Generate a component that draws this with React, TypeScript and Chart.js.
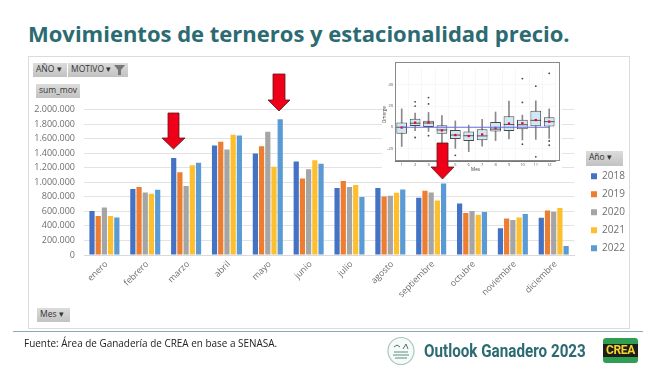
import React, { useEffect, useRef } from "react";
import { Chart, registerables } from "chart.js";

Chart.register(...registerables);

const months = ["enero","febrero","marzo","abril","mayo","junio","julio","agosto","septiembre","octubre","noviembre","diciembre"];
const v2018 = [604000,906000,1332000,1505000,1396000,1286000,920000,920000,787000,709000,366000,512000];
const v2019 = [535000,933000,1139000,1556000,1496000,1052000,1016000,805000,883000,577000,503000,613000];
const v2020 = [654000,860000,947000,1450000,1693000,1180000,933000,815000,860000,604000,480000,595000];
const v2021 = [535000,842000,1235000,1652000,1213000,1304000,961000,856000,750000,554000,517000,645000];
const v2022 = [517000,897000,1267000,1643000,1867000,1254000,796000,901000,984000,590000,563000,124000];
const years = ["2018","2019","2020","2021","2022"];
const yearColors = ["#4472c4","#ed7d31","#a5a5a5","#fdbf2d","#5b9bd5"];

const boxMonths = ["1","2","3","4","5","6","7","8","9","10","11","12"];
const q1 = [-6.2,1.2,0.3,-6.2,-11,-13,-12.4,-4,-3.5,-1.8,0.9,0.6];
const q3 = [4.4,8,6.2,2,-2.6,-4,-1.8,5,10.3,7,15.6,9.4];
const medians = [0,3.8,4,-2.6,-7.4,-8,-8.2,-1.8,2.6,2.4,6.5,5.3];
const means = [-0.3,4.4,4.4,-3,-7.4,-8.3,-6.8,-0.6,3.5,3.8,6.8,5.3];
const whiskLow = [-18.2,-3.2,-4,-15,-20,-23,-18,-12.6,-11,-12,-11.5,-10.6];
const whiskHigh = [17.4,13.5,14,11,6,2,7.4,14.4,24.7,11.5,25,17.4];
const outlierMonths = ["2","2","2","3","3","3","5","10","10","10","11","11","12","12","12"];
const outlierValues = [24,20,-9.7,28,22,-8,-26.5,46,23.5,-16,38.8,-28,51,-13,-17];
const boxZero = boxMonths.map(() => 0);

const FONT = "'Open Sans', sans-serif";
const SOFT = "blur(0.35px)";

const legendPlacer = {
  id: "legendPlacer",
  beforeDraw(chart: any) {
    if (chart.legend) {
      chart.legend.left = 583;
      chart.legend.right = 640;
      chart.legend.top = 111;
      chart.legend.bottom = 313.5;
    }
  },
};

function MainChart() {
  const ref = useRef<HTMLCanvasElement>(null);
  useEffect(() => {
    const series = [v2018, v2019, v2020, v2021, v2022];
    const chart = new Chart(ref.current!, {
      type: "bar",
      data: {
        labels: months,
        datasets: series.map((data, i) => ({
          label: years[i],
          data,
          backgroundColor: yearColors[i],
          categoryPercentage: 0.76,
          barPercentage: 0.84,
        })),
      },
      plugins: [legendPlacer],
      options: {
        animation: false,
        responsive: false,
        layout: { padding: { left: 34, right: 32, top: 109.5, bottom: 73.5 } },
        plugins: {
          title: { display: false },
          tooltip: { enabled: false },
          legend: {
            position: "right",
            labels: {
              boxWidth: 6,
              boxHeight: 6,
              padding: 8,
              color: "#6f6f6f",
              font: { family: FONT, size: 10 },
            },
          },
        },
        scales: {
          x: {
            afterFit: (s: any) => { s.height = 56.5; },
            grid: { display: false, drawTicks: false, tickLength: 0 },
            border: { color: "#d9d9d9" },
            ticks: {
              minRotation: 45,
              maxRotation: 45,
              color: "#6f6f6f",
              padding: 4,
              labelOffset: 2,
              autoSkip: false,
              font: { family: FONT, size: 8.8 },
            },
          },
          y: {
            min: 0,
            max: 2000000,
            afterFit: (s: any) => { s.width = 50; },
            grid: { color: "#e2e2e2", drawTicks: false },
            border: { display: false },
            ticks: {
              stepSize: 200000,
              padding: 9,
              color: "#6f6f6f",
              font: { family: FONT, size: 9 },
              callback: (v: any) => String(v).replace(/\B(?=(\d{3})+(?!\d))/g, "."),
            },
          },
        },
      },
    } as any);
    return () => chart.destroy();
  }, []);
  return <canvas ref={ref} width={658} height={385} style={{ position: "absolute", left: 0, top: 0, filter: SOFT }} />;
}

function BoxChart() {
  const ref = useRef<HTMLCanvasElement>(null);
  useEffect(() => {
    const boxes = boxMonths.map((_, i) => [q1[i], q3[i]]);
    const whiskers = boxMonths.map((_, i) => [whiskLow[i], whiskHigh[i]]);
    const chart = new Chart(ref.current!, {
      data: {
        labels: boxMonths,
        datasets: [
          { type: "line", data: boxZero, borderColor: "#6a6ae6", borderWidth: 1, pointRadius: 0, order: 0 },
          { type: "scatter", data: boxMonths.map((x, i) => ({ x, y: means[i] })), backgroundColor: "#f0002a", pointStyle: "rect", pointRadius: 1.6, borderWidth: 0, order: 1 },
          { type: "scatter", data: boxMonths.map((x, i) => ({ x, y: medians[i] })), borderColor: "#333333", pointStyle: "line", pointRadius: 5.3, borderWidth: 0.8, order: 2 },
          { type: "scatter", data: outlierMonths.map((x, i) => ({ x, y: outlierValues[i] })), backgroundColor: "#444444", pointRadius: 0.9, borderWidth: 0, order: 3 },
          { type: "bar", data: boxes, backgroundColor: "#cfe8f5", borderColor: "#4a4a4a", borderWidth: 1, borderSkipped: false, categoryPercentage: 1, barPercentage: 0.8, grouped: false, order: 4 },
          { type: "bar", data: whiskers, backgroundColor: "#8a8a8a", barThickness: 1, grouped: false, order: 5 },
        ],
      },
      options: {
        animation: false,
        responsive: false,
        layout: { padding: { left: 0, right: 3, top: 0, bottom: 0 } },
        plugins: { legend: { display: false }, tooltip: { enabled: false } },
        scales: {
          x: {
            type: "category",
            afterFit: (s: any) => { s.height = 11; },
            grid: { color: "#eeeeee", lineWidth: 0.5, tickLength: 1.5 },
            border: { color: "#555555", width: 0.8 },
            ticks: { color: "#555555", padding: 0, autoSkip: false, maxRotation: 0, font: { family: FONT, size: 4 } },
            title: { display: true, text: "Mes", color: "#333333", padding: 0, font: { family: FONT, size: 4.5 } },
          },
          y: {
            min: -31.9,
            max: 55.9,
            afterFit: (s: any) => { s.width = 13; },
            afterBuildTicks: (s: any) => { s.ticks = [-20, 0, 20, 40].map((value) => ({ value })); },
            grid: { color: "#eeeeee", lineWidth: 0.5, tickLength: 1.5 },
            border: { color: "#555555", width: 0.8 },
            ticks: { color: "#555555", padding: 0.5, font: { family: FONT, size: 4 } },
            title: { display: true, text: "Dmerge", color: "#333333", padding: 0, font: { family: FONT, size: 4.5 } },
          },
        },
      },
    } as any);
    return () => chart.destroy();
  }, []);
  return <canvas ref={ref} width={180} height={110} style={{ position: "absolute", left: 382, top: 62, background: "#ffffff", filter: SOFT }} />;
}

const btn = (left: number, top: number, width: number, height = 14): React.CSSProperties => ({
  position: "absolute",
  left,
  top,
  width,
  height,
  lineHeight: height + "px",
  background: "linear-gradient(#dcdcdc,#c2c2c2)",
  color: "#333",
  font: `8.5px ${FONT}`,
  paddingLeft: 3,
  boxSizing: "border-box",
  whiteSpace: "nowrap",
});

const arrows = [
  { sx0: 168, sx1: 179, hx0: 162, hx1: 185, top: 113, neck: 138, tip: 149 },
  { sx0: 273, sx1: 285, hx0: 268, hx1: 290, top: 74, neck: 100, tip: 111 },
  { sx0: 437, sx1: 448, hx0: 431, hx1: 454, top: 143, neck: 167, tip: 179 },
];

export default function App() {
  return (
    <div style={{ position: "fixed", left: 0, top: 0, width: 658, height: 385, background: "#fff", overflow: "hidden" }}>
      <div style={{ position: "absolute", left: 28, top: 18, font: `700 22px ${FONT}`, color: "#2b6b72", whiteSpace: "nowrap" }}>
        Movimientos de terneros y estacionalidad precio.
      </div>
      <div style={{ position: "absolute", left: 28, top: 56, width: 602, height: 273, border: "1px solid #dcdcdc", boxSizing: "border-box" }} />
      <MainChart />
      <BoxChart />
      <div style={{ position: "absolute", left: 395, top: 62, width: 165, height: 99, border: "1px solid #8a8a8a", boxSizing: "border-box" }} />
      <svg width={658} height={385} style={{ position: "absolute", left: 0, top: 0 }}>
        {arrows.map((a, i) => (
          <polygon
            key={i}
            points={`${a.sx0},${a.top} ${a.sx1},${a.top} ${a.sx1},${a.neck} ${a.hx1},${a.neck} ${(a.hx0 + a.hx1) / 2},${a.tip} ${a.hx0},${a.neck} ${a.sx0},${a.neck}`}
            fill="#f00018"
            stroke="#5a1a1a"
            strokeWidth={0.8}
          />
        ))}
      </svg>
      <div style={btn(33, 63, 34)}>AÑO ▾</div>
      <div style={btn(68, 63, 60)}>MOTIVO ▾</div>
      <svg width={12} height={10} style={{ position: "absolute", left: 114, top: 65 }}>
        <polygon points="0,0 11,0 7,5 7,10 4,10 4,5" fill="#777" />
      </svg>
      <div style={btn(36, 84, 44)}>sum_mov</div>
      <div style={btn(37, 308, 33)}>Mes ▾</div>
      <div style={btn(586, 151, 37, 15)}>Año ▾</div>
      <div style={{ position: "absolute", left: 13, top: 331, width: 630, height: 1, background: "#8aa9b0" }} />
      <div style={{ position: "absolute", left: 24, top: 336, font: `9.95px ${FONT}`, color: "#222", whiteSpace: "nowrap" }}>
        Fuente: Área de Ganadería de CREA en base a SENASA.
      </div>
      <svg width={30} height={30} style={{ position: "absolute", left: 386, top: 336 }}>
        <ellipse cx={15} cy={15} rx={13} ry={13.5} fill="#f6faf8" stroke="#a9c9bd" strokeWidth={1.2} />
        <path d="M7 19h16M8 16h14M9 22h12" stroke="#5f8f80" strokeWidth={1.2} />
        <path d="M8 11l3-2 3 2M17 13l3-5 2 5" stroke="#4f7269" strokeWidth={1} fill="none" />
      </svg>
      <div style={{ position: "absolute", left: 424, top: 340, font: `700 18px Roboto, sans-serif`, color: "#2b6b72", whiteSpace: "nowrap", transform: "scaleX(0.845)", transformOrigin: "left center" }}>
        Outlook Ganadero 2023
      </div>
      <div style={{ position: "absolute", left: 603, top: 338, width: 35, height: 25, borderRadius: 3, background: "#2f9e52" }}>
        <div style={{ position: "absolute", left: 0, top: 6, width: 35, height: 13, background: "#1d1d1b", color: "#f4d52a", font: `700 12px Roboto, sans-serif`, lineHeight: "13px", textAlign: "center", letterSpacing: -0.4 }}>
          CREA
        </div>
      </div>
    </div>
  );
}
